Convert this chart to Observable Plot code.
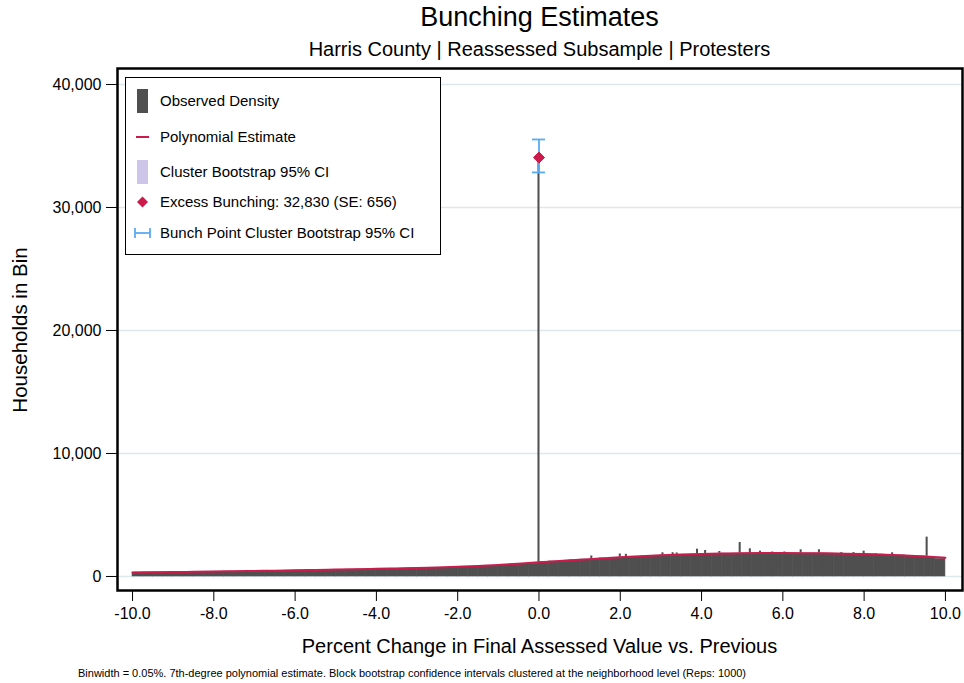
<!DOCTYPE html>
<html>
<head>
<meta charset="utf-8">
<script src="https://cdn.jsdelivr.net/npm/d3@7"></script>
<script src="https://cdn.jsdelivr.net/npm/@observablehq/plot@0.6"></script>
<style>
  html, body { margin: 0; padding: 0; background: #fff; }
  #wrap { position: relative; width: 964px; height: 683px; font-family: "Liberation Sans", Arial, Helvetica, sans-serif; color: #000; }
  #wrap svg.plot { position: absolute; left: 0; top: 0; }
  .t { position: absolute; white-space: nowrap; line-height: 1.15; }
  #title { left: 0; width: 1079px; top: 2px; text-align: center; font-size: 27px; }
  #subtitle { left: 0; width: 1079px; top: 38px; text-align: center; font-size: 20px; }
  #xlabel { left: 0; width: 1079px; top: 635px; text-align: center; font-size: 20px; }
  #ylabel { left: 20px; top: 330px; font-size: 20.5px; transform: translate(-50%, -50%) rotate(-90deg); }
  #foot { left: 78px; top: 667px; font-size: 11px; }
  #legend { position: absolute; left: 125px; top: 77px; width: 314px; height: 176px; border: 1px solid #000; background: #fff; }
  #legend .item { position: absolute; left: 34px; font-size: 15px; transform: translateY(-50%); line-height: 1.15; }
  #legend svg { position: absolute; left: 0; top: 0; }
</style>
</head>
<body>
<div id="wrap">
  <div class="t" id="title">Bunching Estimates</div>
  <div class="t" id="subtitle">Harris County | Reassessed Subsample | Protesters</div>
  <div class="t" id="xlabel">Percent Change in Final Assessed Value vs. Previous</div>
  <div class="t" id="ylabel">Households in Bin</div>
  <div class="t" id="foot">Binwidth = 0.05%. 7th-degree polynomial estimate. Block bootstrap confidence intervals clustered at the neighborhood level (Reps: 1000)</div>
</div>
<script>
// ---- Data ----
// Polynomial estimate, evaluated every 0.5 percentage points from -10 to 10
const polyX = [-10,-9.5,-9,-8.5,-8,-7.5,-7,-6.5,-6,-5.5,-5,-4.5,-4,-3.5,-3,-2.5,-2,-1.5,-1,-0.5,0,0.5,1,1.5,2,2.5,3,3.5,4,4.5,5,5.5,6,6.5,7,7.5,8,8.5,9,9.5,10];
const polyY = [330,345,360,380,400,425,450,475,500,530,560,590,620,655,690,735,790,860,940,1040,1150,1255,1360,1460,1560,1645,1720,1780,1830,1865,1890,1900,1900,1895,1880,1855,1820,1765,1700,1620,1520];
// Cluster bootstrap 95% CI around the polynomial
const ciLow  = [300,318,335,356,377,402,428,454,480,510,540,570,600,634,668,712,766,834,912,1010,1118,1222,1326,1426,1526,1611,1686,1746,1796,1830,1854,1863,1862,1856,1840,1814,1777,1720,1652,1568,1462];
const ciHigh = [360,372,385,404,423,448,472,496,520,550,580,610,640,676,712,758,814,886,968,1070,1182,1288,1394,1494,1594,1679,1754,1814,1864,1900,1926,1937,1938,1934,1920,1896,1863,1810,1748,1672,1578];
// Observed density (0.25-wide display bins, left edges -10 ... 9.75)
const obsStart = -10, obsStep = 0.25;
const obsY = [
  320,330,335,340,350,360,365,375,385,395,405,415,430,440,455,470,480,495,510,525,
  540,555,570,585,600,615,630,650,665,685,705,730,755,785,815,850,890,935,985,1040,
  1170,1220,1270,1320,1370,1420,1470,1510,1550,1590,1630,1670,1700,1730,1760,1790,1810,1830,1850,1860,
  1870,1880,1880,1885,1880,1880,1875,1870,1860,1850,1840,1820,1800,1780,1750,1720,1680,1640,1590,1420
];
// Individual 0.05% bins that stand out (heaping at round values)
const spikeX = [0,1.3,2.0,2.15,3.05,3.3,3.4,3.9,4.1,4.45,4.95,5.2,5.45,5.75,6.05,6.45,6.9,7.45,7.75,8.0,8.3,8.7,9.55];
const spikeY = [34060,1665,1830,1800,1925,1930,1910,2220,2110,2030,2760,2250,2060,1990,1990,2170,2170,1950,1940,2060,1870,1925,3200];
// Excess bunching estimate at the bunch point with bootstrap CI
const bunchX = [0];
const bunchY = [34060];
const bunchLo = [32850];
const bunchHi = [35530];
const binWidth = 0.05;
const yTicks = [0,10000,20000,30000,40000];
const xTicks = [-10,-8,-6,-4,-2,0,2,4,6,8,10];
const legendLabels = ["Observed Density","Polynomial Estimate","Cluster Bootstrap 95% CI","Excess Bunching: 32,830 (SE: 656)","Bunch Point Cluster Bootstrap 95% CI"];

// ---- Tables ----
const poly = polyX.map((x,i) => ({x, y: polyY[i], lo: ciLow[i], hi: ciHigh[i]}));
const obs = obsY.map((y,i) => ({x1: obsStart + i*obsStep, x2: obsStart + (i+1)*obsStep, y}));
const spikes = spikeX.map((x,i) => ({x1: x - binWidth/2, x2: x + binWidth/2, y: spikeY[i]}));
const bunch = bunchX.map((x,i) => ({x, y: bunchY[i], lo: bunchLo[i], hi: bunchHi[i]}));

const BAR = "#4f4f4f", RED = "#cc1b4b", BLUE = "#5aacf2", LAV = "#cdc6e8";
const capHalf = 0.16;

const chart = Plot.plot({
  width: 964,
  height: 683,
  marginLeft: 117,
  marginRight: 2,
  marginTop: 68,
  marginBottom: 93,
  style: {fontFamily: '"Liberation Sans", Arial, Helvetica, sans-serif', fontSize: "16px", background: "transparent"},
  x: {domain: [-10.37, 10.42], label: null},
  y: {domain: [-1140, 41300], label: null},
  marks: [
    Plot.gridY(yTicks, {stroke: "#dde8ec", strokeOpacity: 1, strokeWidth: 1.5}),
    Plot.rectY(obs, {x1: "x1", x2: "x2", y: "y", fill: BAR, stroke: BAR, strokeWidth: 0.6, inset: 0}),
    Plot.rectY(spikes, {x1: "x1", x2: "x2", y: "y", fill: BAR, inset: 0}),
    Plot.areaY(poly, {x: "x", y1: "lo", y2: "hi", fill: LAV, fillOpacity: 0.6, curve: "natural"}),
    Plot.line(poly, {x: "x", y: "y", stroke: RED, strokeWidth: 2, curve: "natural"}),
    Plot.ruleX(bunch, {x: "x", y1: "lo", y2: "hi", stroke: BLUE, strokeWidth: 1.8}),
    Plot.ruleY(bunch, {y: "lo", x1: d => d.x - capHalf, x2: d => d.x + capHalf, stroke: BLUE, strokeWidth: 1.8}),
    Plot.ruleY(bunch, {y: "hi", x1: d => d.x - capHalf, x2: d => d.x + capHalf, stroke: BLUE, strokeWidth: 1.8}),
    Plot.dot(bunch, {x: "x", y: "y", symbol: "diamond2", r: 5, fill: RED, stroke: RED, strokeWidth: 1}),
    Plot.axisX({ticks: xTicks, tickFormat: d => d.toFixed(1), tickSize: 11, tickPadding: 6, label: null, fontSize: 16, anchor: "bottom"}),
    Plot.axisY({ticks: yTicks, tickFormat: d3.format(","), tickSize: 11, tickPadding: 5, label: null, fontSize: 16, anchor: "left"}),
    Plot.frame({stroke: "#000", strokeWidth: 2.5})
  ]
});
chart.classList.add("plot");
const wrap = document.getElementById("wrap");
wrap.insertBefore(chart, wrap.firstChild);

// ---- Legend ----
const lg = document.createElement("div");
lg.id = "legend";
const ys = [23, 59, 94, 124, 155];
const ns = "http://www.w3.org/2000/svg";
const svg = document.createElementNS(ns, "svg");
svg.setAttribute("width", 314); svg.setAttribute("height", 176);
svg.innerHTML = `
  <rect x="11" y="${ys[0]-12}" width="11" height="24" fill="${BAR}"/>
  <line x1="10" x2="23" y1="${ys[1]}" y2="${ys[1]}" stroke="${RED}" stroke-width="2"/>
  <rect x="11" y="${ys[2]-12}" width="11" height="24" fill="${LAV}"/>
  <path d="M16.5 ${ys[3]-5.5} L22 ${ys[3]} L16.5 ${ys[3]+5.5} L11 ${ys[3]} Z" fill="${RED}"/>
  <line x1="9" x2="24" y1="${ys[4]}" y2="${ys[4]}" stroke="${BLUE}" stroke-width="1.8"/>
  <line x1="9" x2="9" y1="${ys[4]-5}" y2="${ys[4]+5}" stroke="${BLUE}" stroke-width="1.8"/>
  <line x1="24" x2="24" y1="${ys[4]-5}" y2="${ys[4]+5}" stroke="${BLUE}" stroke-width="1.8"/>`;
lg.appendChild(svg);
legendLabels.forEach((t, i) => {
  const d = document.createElement("div");
  d.className = "item";
  d.style.top = ys[i] + "px";
  d.textContent = t;
  lg.appendChild(d);
});
wrap.appendChild(lg);
</script>
</body>
</html>
